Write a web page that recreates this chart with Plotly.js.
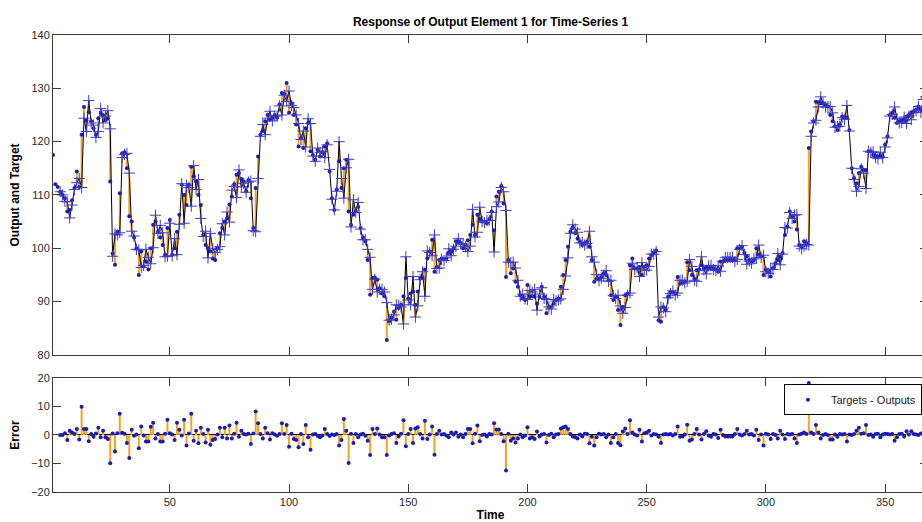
<!DOCTYPE html>
<html>
<head>
<meta charset="utf-8">
<script src="https://cdn.plot.ly/plotly-3.0.1.min.js"></script>
<style>
html,body{margin:0;padding:0;overflow:hidden;background:#fff;}
#chart{width:940px;height:522px;}
</style>
</head>
<body>
<div id="chart"></div>
<script>
// Time steps 1..368
const timeStart = 1;

// Targets (one value per time step)
const targets = [
117.5,112,111.5,110.6,110,109.4,106.9,107.2,109,111.3,
114.4,111.5,121.3,126.5,124,125.5,123.8,122.5,121.3,124.4,
125.4,125,124,124.4,112.5,99,96.9,103.1,110.3,117.8,
118,115,106,105,102,100,95,99.4,96.6,97.5,
96,100,104.4,105,103.1,102,100.6,98.8,103.8,105.3,
98.8,100,103.1,106.3,111.9,110,108.1,111.9,115.3,113.5,
112.5,110,108.1,102.5,100.6,100,99.4,98.1,97.8,100,
102.8,103.8,105,105.6,108.2,109.7,112,113.8,114.1,113,
112.5,110.7,112.8,109.4,103.8,111.3,117.2,121.3,122,123.8,
125,124.1,124.5,125,124.5,127,129.1,129,131,125.4,
127.2,125,123.2,119.1,120.7,118.8,122.5,123.5,118.2,117.5,
116.6,118.5,117.2,118,119.1,119.7,114.4,109.4,107.2,111,
116.3,111.3,115,116.6,106.9,104.4,106.3,107,107.8,103.8,
102,101.3,97.8,91.3,94.4,94.5,94.1,92.5,91.5,91,
82.8,86.3,87,88.1,86.6,88.8,89.4,91,94.4,90.6,
91.5,91.9,89.4,91.9,94.4,94.4,96,98.1,99.4,101.6,
95.6,96.5,97.8,98.1,98,98.1,99.1,99.5,100,101.3,
101.2,101,100,100.6,101.5,102.5,104.4,102.5,106.3,105.5,
105,105,104.7,105.5,106.9,103.4,109.7,110.6,111.7,108.4,
94.6,97.8,95.3,96.2,93.7,92.8,91.2,90.6,90.3,93.1,
90.9,91,90.9,89.6,90.9,92.8,90.9,87.8,89,89,
89.6,90.3,90.6,92.8,95,97.8,100.3,103.1,103.9,102.8,
101.8,101.2,100.6,101,101.2,100.3,97.8,93.7,94.3,94.3,
94.6,95.3,95,94,91.2,90.3,90.9,88.4,85.6,89,
91.2,91.5,96.8,98.1,96.2,96.2,96.5,95,96.5,96.8,
98.1,98.7,99.2,99.6,86.5,86.2,89,88.4,90.9,91.8,
91.8,91.5,94.6,93.4,93.5,93.7,97.4,95.9,95,94.3,
95.9,96,96.8,96.2,96.5,96.5,96.2,96.3,96,95.6,
97.5,97.5,97.8,97.8,97.8,97.8,97.8,100,100,100.3,
99.1,98.5,97.8,97.5,97.8,100,98.8,98.5,95,96,
95.5,94.7,96.3,97.2,97.8,98.4,99.1,102.5,104.1,106.9,
105.9,105,103.5,100.6,100.3,101.3,101,118.8,121.9,123.8,
127.5,127.4,127.2,127.2,126.8,126.6,125,123.8,122.9,122.2,
123.2,124.7,124.5,124.5,122.2,115,113.2,112.2,114.1,115.3,
114.7,114.7,118.2,118.2,117.5,117.3,117.2,117.2,117.2,119.4,
121,125,125.4,124.5,123.5,123.8,124,124.1,124.7,125,
125.4,125.7,126,126.6,126,128.2,128.6,129
];

// Errors (Targets - Outputs)
const errors = [
null,null,null,0,0,0.6,-1.8,1.5,0.9,0.3,
2.1,-1.6,9.9,2.1,2.1,-2.2,0.3,-0.6,0.5,2.5,
-0.8,1.5,-0.8,-1.4,-9.9,0.5,-5.8,0.6,7.4,0.8,
0.4,-2.8,-8.1,1.8,-0.3,0.2,-4.7,3.0,-0.2,-2.3,
-2.3,2.9,4.3,-1.2,0.3,-2.3,-2.3,0.4,5.3,0.6,
0.2,-1.8,4.3,1.8,-0.2,5.3,-3.7,0.5,7.4,-2.0,
1.5,-2.9,2.5,0.3,-2.6,1.8,-3.4,-1.8,-1.4,0.2,
2.5,-0.8,2.5,-1.2,3.3,-1.2,0.4,4.3,-0.6,1.5,
0.3,0.2,0.4,-3.2,0.5,8.2,4.1,0.3,-1.2,2.5,
0.6,-1.6,0.6,0.2,-0.3,0.3,4.1,0.3,3.5,-4.1,
0.4,-1.4,-1.8,-4.3,0.3,-3.2,3.5,-0.8,-5.2,0.2,
0.3,-0.3,-0.8,-0.2,2.1,0.3,-0.4,0.2,0,0.3,
-3.7,-1.8,5.6,1.5,-9.8,0.4,-2.8,0.3,-0.8,0.2,
0.4,-0.3,-2.0,-7.0,2.1,0.3,2.3,0.2,-0.8,-0.8,
-7.0,-0.2,0.3,0.6,-2.8,-0.5,0.4,5.2,-4.0,0.3,
2.1,-2.8,2.3,2.7,0.3,-1.2,5.0,-1.4,0.2,3.0,
-6.9,0.3,1.5,0.2,0.3,-0.2,-0.8,0.9,0.2,0.9,
-0.6,0.2,-0.8,0.3,2.1,2.1,-2.9,0.4,3.3,-2.2,
0,0.2,-0.5,0.3,0.2,4.1,1.9,1.9,0.3,-2.2,
-12.5,0.4,-2.0,-1.2,-2.6,-1.2,0.2,-0.8,-0.2,2.7,
-1.2,-0.8,-1.4,1.2,-0.5,0.2,0.3,-2.6,0,0.4,
-0.8,0.2,0.3,2.3,2.7,3.0,2.1,0.3,-0.5,-0.8,
-1.2,0.2,-0.5,0.4,0.3,-2.9,-0.6,-3.7,-0.8,0.4,
0.2,0.3,-0.8,0.2,-2.8,-0.8,0.3,-2.8,-3.6,1.2,
2.3,0.3,5.2,0.9,0.2,-0.2,1.8,-2.3,0.6,0.9,
1.5,-0.2,0.3,0.2,-0.6,-2.8,0.2,0.3,0.2,0.3,
-0.2,0.3,3.0,-0.6,-0.5,0.2,3.6,-2.0,-1.6,0.3,
2.1,0.2,-1.6,0.3,1.3,-0.2,-0.6,0.3,0.2,-1.1,
1.8,0,-0.5,-0.5,-0.5,-0.5,0.3,2.1,0.2,-0.2,
0.3,1.5,0.2,0.3,-0.2,1.8,-1.8,0.2,-3.7,0.4,
0.2,-1.4,0.3,0,-1.2,1.5,0.2,-1.4,0.3,0.2,
0.3,-1.2,-2.8,0.2,0.4,0.9,0.3,18.2,0.9,0.3,
3.5,0.9,-1.2,0,0.3,0,-1.6,-1.6,0.2,-0.6,
0.3,0.2,0.3,-2.3,0.2,0,0.3,1.5,2.5,0.4,
0.6,3.5,0,0.2,-0.6,0.3,0.4,-0.8,0.2,0.4,
0.3,0.2,0.3,-2.0,-0.8,0.3,0.4,-0.5,1.3,0.2,
1.3,0.3,0.2,0,0.5,0.3,0.2,0.3
];

const xTicks = [50,100,150,200,250,300,350];
const yTicksMain = [80,90,100,110,120,130,140];
const yTicksErr = [-20,-10,0,10,20];

// ---- derived ----
const N = targets.length;
const time = targets.map((_, i) => timeStart + i);
const outputs = targets.map((v, i) => errors[i] === null ? null : +(v - errors[i]).toFixed(2));

const segX = [], segY = [], stemX = [], stemY = [];
for (let i = 0; i < N; i++) {
  if (outputs[i] === null) continue;
  segX.push(time[i], time[i], null);
  segY.push(targets[i], outputs[i], null);
  stemX.push(time[i], time[i], null);
  stemY.push(0, errors[i], null);
}

const ORANGE = '#f5a31f';
const BLUE = '#1a1ab4';
const BLUE_PLUS = '#3a3ac8';
const AX = '#3a3a3a';
const FONT = 'Liberation Sans, Arial, Helvetica, sans-serif';

const traces = [
  {x: segX, y: segY, xaxis: 'x', yaxis: 'y', mode: 'lines', line: {color: ORANGE, width: 2}, showlegend: false, hoverinfo: 'skip'},
  {x: time, y: outputs, xaxis: 'x', yaxis: 'y', mode: 'lines', line: {color: '#000', width: 1}, showlegend: false},
  {x: time, y: targets, xaxis: 'x', yaxis: 'y', mode: 'markers', marker: {symbol: 'circle', size: 4, color: BLUE}, showlegend: false},
  {x: time, y: outputs, xaxis: 'x', yaxis: 'y', mode: 'markers', marker: {symbol: 'cross-thin', size: 8, line: {color: BLUE_PLUS, width: 1}}, showlegend: false},
  {x: stemX, y: stemY, xaxis: 'x2', yaxis: 'y2', mode: 'lines', line: {color: ORANGE, width: 2}, showlegend: false, hoverinfo: 'skip'},
  {x: time, y: errors, xaxis: 'x2', yaxis: 'y2', mode: 'markers', name: 'Targets - Outputs', marker: {symbol: 'circle', size: 4, color: BLUE}, showlegend: true}
];

const axBase = {
  showline: true, linecolor: AX, linewidth: 1, mirror: 'allticks',
  ticks: 'inside', ticklen: 8, tickcolor: AX, tickwidth: 1,
  showgrid: false, zeroline: false,
  tickfont: {family: FONT, size: 11, color: '#2a2a2a'}
};

const layout = {
  width: 940, height: 522,
  margin: {l: 53, r: 12, t: 35, b: 30},
  paper_bgcolor: '#fff', plot_bgcolor: '#fff',
  font: {family: FONT, size: 11, color: '#000'},
  title: {text: '<b>Response of Output Element 1 for Time-Series 1</b>', font: {family: FONT, size: 12, color: '#000'},
          x: 0.5, xref: 'paper', xanchor: 'center', y: 1 - 22/522, yref: 'container', yanchor: 'middle'},
  xaxis: Object.assign({}, axBase, {domain: [0, 1], anchor: 'y', range: [1, 368], tickvals: xTicks, showticklabels: false}),
  yaxis: Object.assign({}, axBase, {domain: [0.30, 1], anchor: 'x', range: [80, 140], tickvals: yTicksMain,
          title: {text: '<b>Output and Target</b>', font: {family: FONT, size: 12, color: '#000'}}}),
  xaxis2: Object.assign({}, axBase, {domain: [0, 1], anchor: 'y2', range: [1, 368], tickvals: xTicks, showticklabels: true,
          title: {text: '<b>Time</b>', font: {family: FONT, size: 12, color: '#000'}, standoff: 4}}),
  yaxis2: Object.assign({}, axBase, {domain: [0, 0.2496], anchor: 'x2', range: [-20, 20], tickvals: yTicksErr,
          zeroline: true, zerolinecolor: '#000', zerolinewidth: 1,
          title: {text: '<b>Error</b>', font: {family: FONT, size: 12, color: '#000'}}}),
  showlegend: true,
  legend: {x: 0.8354, y: 0.2358, xanchor: 'left', yanchor: 'top', xref: 'paper', yref: 'paper', itemwidth: 36,
           bgcolor: '#fff', bordercolor: '#000', borderwidth: 1, font: {family: FONT, size: 11, color: '#222'}}
};

Plotly.newPlot('chart', traces, layout, {displayModeBar: false, staticPlot: true});
</script>
</body>
</html>
